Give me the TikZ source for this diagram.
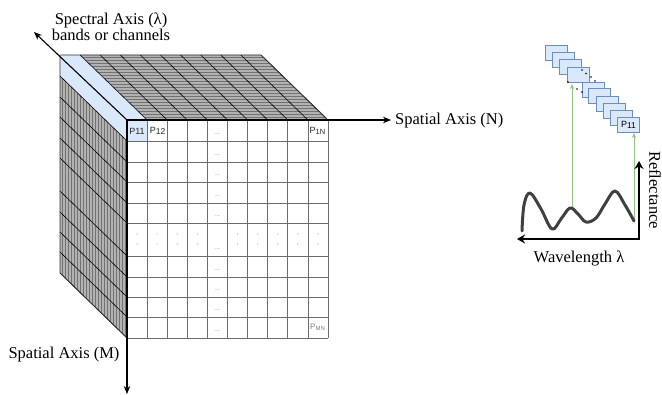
\documentclass[tikz,border=0pt]{standalone}
\usepackage{fontspec}
\setmainfont{Liberation Serif}
\newfontfamily\sansf{Liberation Sans}
\usetikzlibrary{arrows.meta}
\definecolor{lblue}{HTML}{DAE8FC}
\definecolor{bblue}{HTML}{6C8EBF}
\definecolor{lgreen}{HTML}{97C27E}
\definecolor{dgray}{HTML}{727272}
\definecolor{sgray}{HTML}{B2B2B2}
\definecolor{curvec}{HTML}{404040}
\definecolor{dotc}{HTML}{8FA8C8}
\begin{document}
\begin{tikzpicture}[x=1pt,y=-1pt,
  lbl/.style={font=\fontsize{16.5}{18}\selectfont, inner sep=0pt},
  axis/.style={-{Stealth[length=8pt,width=6.5pt]}, line width=1.1pt},
  gridline/.style={draw=gray!85!black, line width=0.7pt},
  cellp/.style={font=\sansf\fontsize{9}{10}\selectfont, inner sep=0pt, text=black!85},
  ell/.style={font=\sansf\fontsize{6}{6}\selectfont, text=gray, inner sep=0pt},
  specbox/.style={draw=bblue, fill=lblue, line width=1.1pt, minimum width=22pt, minimum height=15pt, inner sep=0pt, anchor=north west},
  arrg/.style={draw=lgreen, line width=0.8pt, -{Stealth[length=5pt,width=4pt]}},
]
\useasboundingbox (0,0) rectangle (662,395);

% ---------- top face ----------
\fill[dgray] (147.1,120) -- (328,120) -- (261,55) -- (80.1,55) -- cycle;
\begin{scope}
  \clip (147.1,120) -- (328,120) -- (261,55) -- (80.1,55) -- cycle;
  \foreach \k in {0,...,22} \draw[sgray, line width=1.1pt] (60,{56+3*\k}) -- (330,{56+3*\k});
\end{scope}
\fill[lblue] (127,120) -- (147.1,120) -- (80.1,55) -- (60,55) -- cycle;
\foreach \i in {1,...,10} \draw[black, line width=0.6pt] ({127+20.1*\i},120) -- ({60+20.1*\i},55);
\draw[black!80, line width=0.7pt] (60,55) -- (261,55) -- (328,120);

% ---------- left face ----------
\fill[lblue] (60,55) -- (127,120) -- (127,141) -- (60,76) -- cycle;
\fill[dgray] (60,76) -- (127,141) -- (127,338) -- (60,273) -- cycle;
\begin{scope}
  \clip (60,76) -- (127,141) -- (127,338) -- (60,273) -- cycle;
  \foreach \k in {0,...,22} \draw[sgray, line width=1.1pt] ({61+3*\k},70) -- ({61+3*\k},340);
\end{scope}
\foreach \y in {141,162,182,203,223,256,277,297,317,338}
  \draw[black, line width=0.6pt] (127,\y) -- (60,{\y-65});
\draw[black!80, line width=0.7pt] (60,55) -- (60,273) -- (127,338);

% ---------- front face ----------
\fill[white] (127,120) rectangle (328,338);
\fill[lblue] (127,120) rectangle (147.1,141);
\foreach \i in {0,...,10} \draw[gridline] ({127+20.1*\i},120) -- ({127+20.1*\i},338);
\foreach \y in {120,141,162,182,203,223,256,277,297,317,338} \draw[gridline] (127,\y) -- (328,\y);

\node[cellp] (p11) at (137,131) {P11};
\node[cellp] (p12) at (157.5,131) {P\raisebox{-1.5pt}{\fontsize{8.5}{9}\selectfont 12}};
\node[cellp] (p1n) at (317.5,131) {P\raisebox{-1.5pt}{\fontsize{7.5}{8}\selectfont 1N}};
\node[cellp, text=gray] (pmn) at (317.5,327) {\fontsize{8}{8}\selectfont P\raisebox{-1pt}{\fontsize{6}{6}\selectfont MN}};

\foreach \yb [count=\n] in {141,162,182,203,223,256,277,297,317,338}
  \node[ell] (el\n) at (217.5,{\yb-7}) {...};
\foreach \c in {0,1,2,3,5,6,7,8,9}
  \fill[dotc] ({137+20.1*\c},234) circle (0.6) ({137+20.1*\c},244) circle (0.6);

% ---------- axes ----------
\coordinate (O) at (127,120);
\coordinate (Ntip) at (391,120);
\coordinate (Mtip) at (127,394);
\coordinate (Ltip) at (34,32);
\draw[axis] (O) -- (Ntip);
\draw[axis] (O) -- (Mtip);
\draw[axis] (O) -- (Ltip);

\node[lbl, anchor=west] (nlab) at (395,121) {Spatial Axis (N)};
\node[lbl] (mlab) at (64,355) {Spatial Axis (M)};
\node[lbl, align=center] (llab) at (111,27) {Spectral Axis (λ)\\[-2pt]bands or channels};

% ---------- spectral stack ----------
\foreach \x/\y [count=\n] in {545/45,552/52,559/59,567/67,582/82,588/88,596/96,603/103,610/110}
  \node[specbox] (s\n) at (\x,\y) {};
\node[specbox, font=\sansf\fontsize{9}{10}\selectfont] (s10) at (617,117) {P\raisebox{-1.5pt}{\fontsize{8.5}{9}\selectfont 11}};
\foreach \x/\y in {582/70,586/73.5,591/77,595/81,568/82,577/89,582/92}
  \fill[black] (\x,\y) circle (0.8);

% ---------- spectrum ----------
\coordinate (g1) at (572,208);
\coordinate (g1t) at (572,84);
\coordinate (g2) at (634,220);
\coordinate (g2t) at (634,133);
\draw[arrg] (g1) -- (g1t);
\draw[arrg] (g2) -- (g2t);

\draw[curvec, line width=3pt, line cap=round, line join=round]
  plot[smooth, tension=0.6] coordinates {(522,231) (524,205) (530,193) (541,209) (552,229) (561,219) (570,208) (578,214) (586,222) (596,218) (605,204) (615,191) (625,205) (634,221)};

\coordinate (rtop) at (639,161);
\coordinate (rleft) at (517,239);
\draw[line width=2pt, {Stealth[length=8pt,width=9pt]}-{Stealth[length=8pt,width=9pt]}] (rtop) |- (rleft);

\node[lbl, rotate=-90] (refl) at (655,190) {Reflectance};
\node[lbl] (wl) at (579,258) {Wavelength λ};
\end{tikzpicture}
\end{document}
